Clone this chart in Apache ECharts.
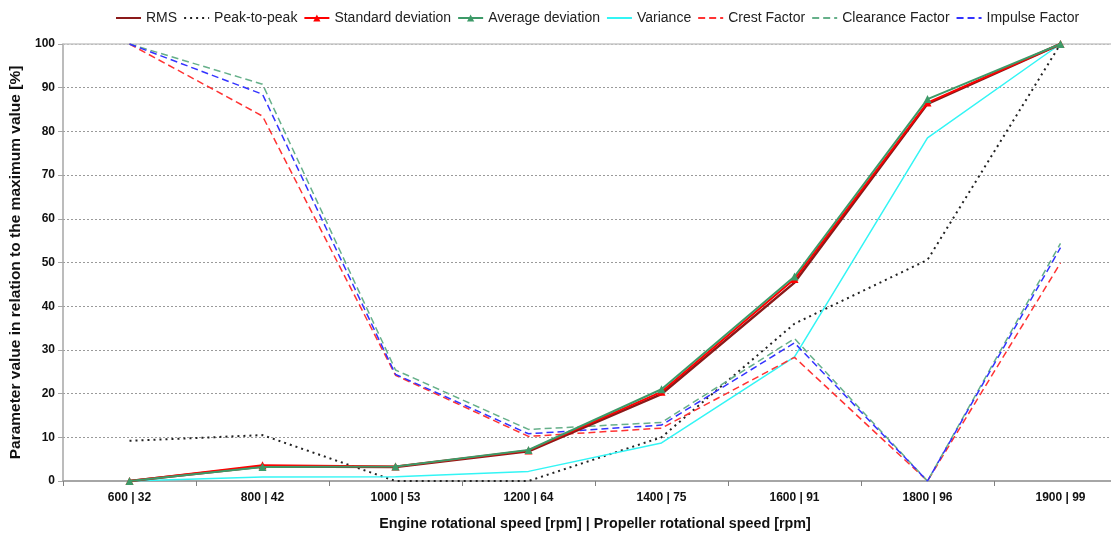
<!DOCTYPE html>
<html>
<head>
<meta charset="utf-8">
<script src="https://cdn.jsdelivr.net/npm/echarts@6/dist/echarts.min.js"></script>
<style>
  html, body { margin: 0; padding: 0; background: #fff; overflow: hidden; }
  #chart { width: 1111px; height: 534px; }
</style>
</head>
<body>
<div id="chart"></div>
<script>
// Operating points: engine speed | propeller speed
const categories = ['600 | 32', '800 | 42', '1000 | 53', '1200 | 64', '1400 | 75', '1600 | 91', '1800 | 96', '1900 | 99'];

// Parameter values relative to their maximum [%]
const rms          = [0, 3.3, 3.2, 6.8, 19.9, 45.4, 86.3, 100];
const peakToPeak   = [9.2, 10.5, 0, 0, 10, 36, 50.6, 100];
const stdDeviation = [0, 3.6, 3.3, 7.0, 20.4, 46.2, 86.6, 100];
const avgDeviation = [0, 3.2, 3.3, 7.1, 21.0, 46.8, 87.4, 100];
const variance     = [0, 0.9, 1.0, 2.2, 8.7, 28.4, 78.5, 100];
const crestFactor  = [100, 83.5, 24.2, 10.2, 12.1, 28.3, 0, 49.9];
const clearanceFac = [100, 90.8, 25.4, 11.8, 13.4, 32.6, 0, 54.4];
const impulseFac   = [100, 88.5, 24.4, 10.8, 12.8, 31.6, 0, 53.4];

const yTicks = { min: 0, max: 100, interval: 10 };

const font = 'Liberation Sans, Arial, sans-serif';

function lineSeries(name, data, color, width, dash, symbol, z) {
  return {
    name: name,
    type: 'line',
    data: data,
    z: z,
    symbol: symbol || 'none',
    symbolSize: symbol ? 8 : 0,
    showSymbol: !!symbol,
    itemStyle: { color: color },
    lineStyle: { color: color, width: width, type: dash || 'solid' },
    emphasis: { disabled: true },
    animation: false
  };
}

// Legend entries: series drawn without markers get a plain line icon
const legendNames = ['RMS', 'Peak-to-peak', 'Standard deviation', 'Average deviation', 'Variance', 'Crest Factor', 'Clearance Factor', 'Impulse Factor'];
const withMarker = { 'Standard deviation': true, 'Average deviation': true };
const legendData = legendNames.map(function (n) {
  return withMarker[n] ? { name: n } : { name: n, itemStyle: { opacity: 0 } };
});

const chart = echarts.init(document.getElementById('chart'), null, { renderer: 'canvas' });

chart.setOption({
  backgroundColor: '#ffffff',
  animation: false,
  textStyle: { fontFamily: font },
  legend: {
    top: 6,
    left: 110,
    itemWidth: 25,
    itemHeight: 9,
    itemGap: 6,
    textStyle: { fontFamily: font, fontSize: 14, color: '#222' },
    data: legendData
  },
  grid: { left: 63, top: 44, width: 1064, height: 437, outerBoundsMode: 'none', containLabel: false },
  xAxis: [{
    type: 'category',
    data: categories,
    boundaryGap: true,
    axisLine: { lineStyle: { color: '#a6a6a6', width: 2 } },
    axisTick: { show: true, length: 5, lineStyle: { color: '#808080' } },
    axisLabel: { fontFamily: font, fontSize: 12, fontWeight: 'bold', color: '#111', margin: 11 },
    name: 'Engine rotational speed [rpm] | Propeller rotational speed [rpm]',
    nameLocation: 'middle',
    nameGap: 36,
    nameTextStyle: { fontFamily: font, fontSize: 14.3, fontWeight: 'bold', color: '#111' }
  }, {
    type: 'category',
    data: categories,
    position: 'top',
    axisLine: { show: true, lineStyle: { color: '#c8c8c8', width: 1.5 } },
    axisTick: { show: false },
    axisLabel: { show: false }
  }],
  yAxis: {
    type: 'value',
    min: yTicks.min,
    max: yTicks.max,
    interval: yTicks.interval,
    axisLine: { show: true, lineStyle: { color: '#a6a6a6', width: 1.5 } },
    axisTick: { show: true, length: 5, lineStyle: { color: '#a6a6a6' } },
    axisLabel: { fontFamily: font, fontSize: 12, fontWeight: 'bold', color: '#111', margin: 8 },
    splitLine: { show: true, lineStyle: { color: '#9a9a9a', type: [2, 2], width: 1 } },
    name: 'Parameter value in relation to the maximum value [%]',
    nameLocation: 'middle',
    nameGap: 31,
    nameTextStyle: { fontFamily: font, fontSize: 15.5, fontWeight: 'bold', color: '#111' }
  },
  series: [
    lineSeries('RMS', rms, '#8b1a1a', 2.5, null, null, 3),
    lineSeries('Peak-to-peak', peakToPeak, '#222222', 2, [2, 4], null, 2),
    lineSeries('Standard deviation', stdDeviation, '#ff0000', 2, null, 'triangle', 4),
    lineSeries('Average deviation', avgDeviation, '#3d9a68', 2, null, 'triangle', 5),
    lineSeries('Variance', variance, '#33f5f5', 1.5, null, null, 2),
    lineSeries('Crest Factor', crestFactor, '#ff3333', 1.5, [7, 4], null, 2),
    lineSeries('Clearance Factor', clearanceFac, '#66b08a', 1.5, [7, 4], null, 2),
    lineSeries('Impulse Factor', impulseFac, '#3333ff', 1.5, [7, 4], null, 2)
  ]
});
</script>
</body>
</html>
